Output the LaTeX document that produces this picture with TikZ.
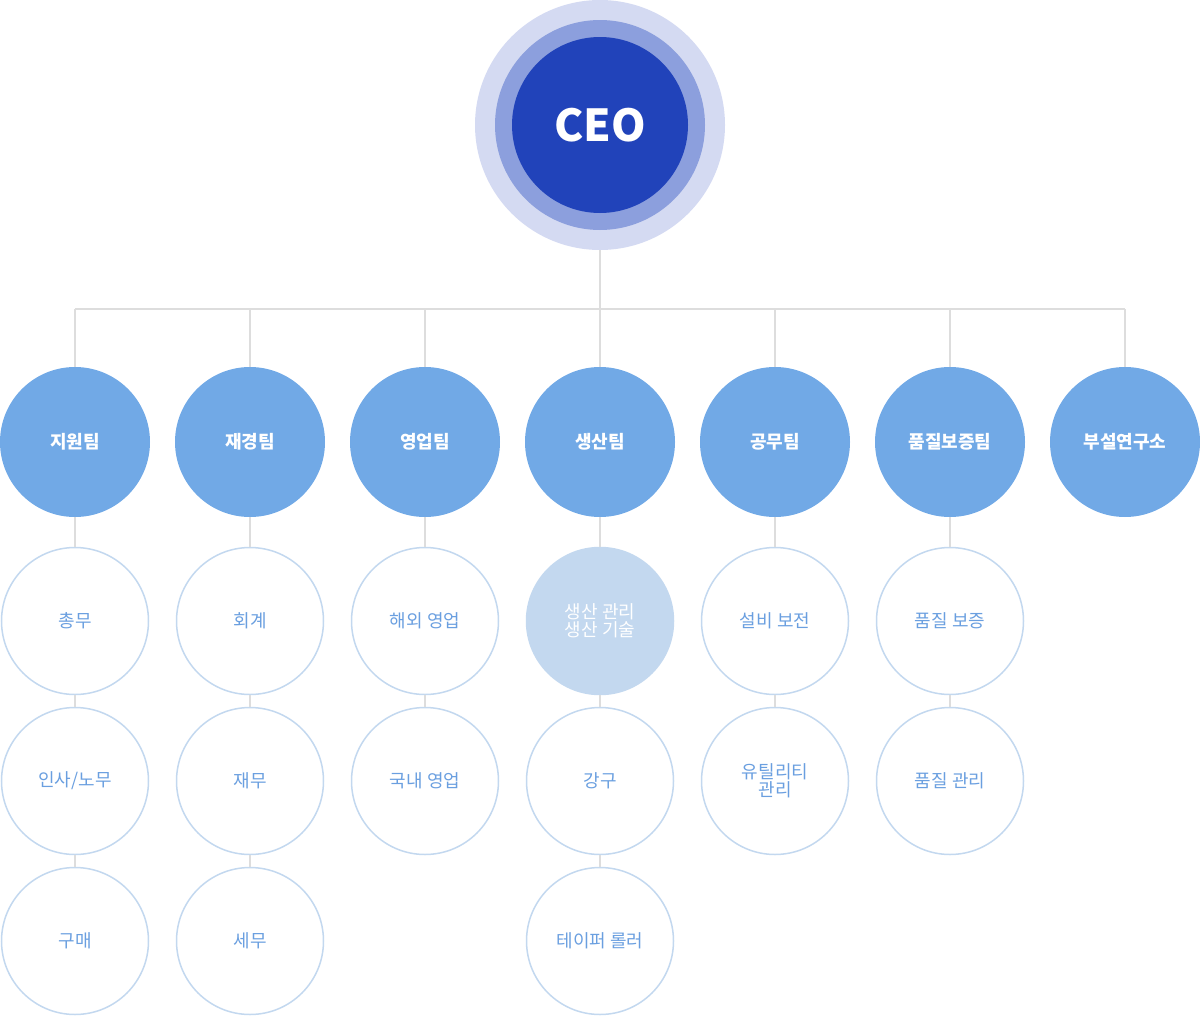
\documentclass[tikz,border=0pt]{standalone}
\usepackage{fontspec}
\setmainfont{Noto Sans CJK KR}
\usepackage{tikz}
\definecolor{ringA}{HTML}{D4DAF2}
\definecolor{ringB}{HTML}{8C9FDD}
\definecolor{ceoblue}{HTML}{2143BA}
\definecolor{teamblue}{HTML}{71A9E6}
\definecolor{subline}{HTML}{C3D8EF}
\definecolor{subtext}{HTML}{6A9FE0}
\definecolor{linkgray}{HTML}{DDDDDD}
\tikzset{
  team/.style={circle,fill=teamblue,minimum size=150pt,inner sep=0pt,text=white,font=\fontsize{18}{20}\selectfont\bfseries},
  sub/.style={circle,draw=subline,line width=1.5pt,fill=white,minimum size=147pt,inner sep=0pt,text=subtext,align=center,font=\fontsize{18}{22}\selectfont},
  subon/.style={sub,fill=subline,text=white},
  link/.style={draw=linkgray,line width=1.2pt}
}
\begin{document}
\begin{tikzpicture}[x=1pt,y=-1pt]
    \useasboundingbox (0,0) rectangle (1200,1017);
    
    % CEO rings
    \fill[ringA] (600,125) circle (125);
    \fill[ringB] (600,125) circle (105);
    \node (ceo) [circle,fill=ceoblue,minimum size=176pt,text=white,font=\fontsize{44}{48}\selectfont\bfseries] at (600,125) {CEO};
    \coordinate (ceobot) at (600,250);
    \coordinate (bus) at (600,309);
    
    % teams
    \node (t1) [team] at (75,442) {지원팀};
    \node (t2) [team] at (250,442) {재경팀};
    \node (t3) [team] at (425,442) {영업팀};
    \node (t4) [team] at (600,442) {생산팀};
    \node (t5) [team] at (775,442) {공무팀};
    \node (t6) [team] at (950,442) {품질보증팀};
    \node (t7) [team] at (1125,442) {부설연구소};
    
    % bus lines
    \draw[link] (ceobot) -- (bus);
    \foreach \t in {t1,t2,t3,t4,t5,t6,t7}
        \draw[link] (bus -| \t) -- (\t.north);
    \draw[link] (bus -| t1) -- (bus -| t7);
    
    % sub units
    \node (s11) [sub] at (75,621) {총무};
    \node (s12) [sub] at (75,781) {인사/노무};
    \node (s13) [sub] at (75,941) {구매};
    \node (s21) [sub] at (250,621) {회계};
    \node (s22) [sub] at (250,781) {재무};
    \node (s23) [sub] at (250,941) {세무};
    \node (s31) [sub] at (425,621) {해외 영업};
    \node (s32) [sub] at (425,781) {국내 영업};
    \node (s41) [subon] at (600,621) {생산 관리\\[-4pt]생산 기술};
    \node (s42) [sub] at (600,781) {강구};
    \node (s43) [sub] at (600,941) {테이퍼 롤러};
    \node (s51) [sub] at (775,621) {설비 보전};
    \node (s52) [sub] at (775,781) {유틸리티\\[-4pt]관리};
    \node (s61) [sub] at (950,621) {품질 보증};
    \node (s62) [sub] at (950,781) {품질 관리};
    
    % connectors
    \draw[link] (t1) -- (s11) (s11) -- (s12) (s12) -- (s13);
    \draw[link] (t2) -- (s21) (s21) -- (s22) (s22) -- (s23);
    \draw[link] (t3) -- (s31) (s31) -- (s32);
    \draw[link] (t4) -- (s41) (s41) -- (s42) (s42) -- (s43);
    \draw[link] (t5) -- (s51) (s51) -- (s52);
    \draw[link] (t6) -- (s61) (s61) -- (s62);
\end{tikzpicture}
\end{document}
